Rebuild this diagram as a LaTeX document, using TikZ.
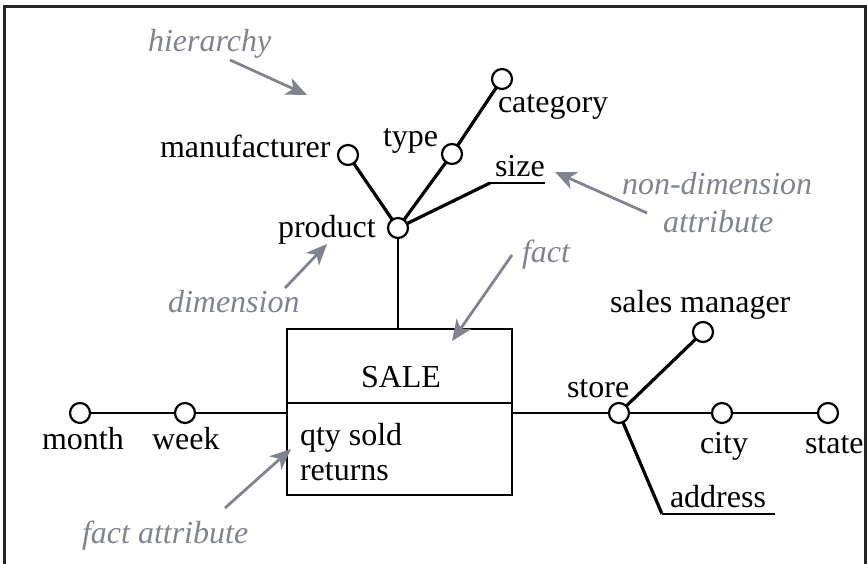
\documentclass[tikz,border=0pt]{standalone}
\usepackage{fontspec}
\setmainfont{Liberation Serif}
\usetikzlibrary{arrows.meta}
\definecolor{notegray}{RGB}{128,132,145}
\begin{document}
\begin{tikzpicture}[x=1pt,y=-1pt,
  every node/.style={inner sep=0pt, outer sep=0pt},
  lbl/.style={anchor=base west, font=\fontsize{32}{38}\selectfont},
  attr/.style={circle, draw, line width=2.2pt, minimum size=20pt, fill=white},
  thicklink/.style={line width=3.2pt},
  thinlink/.style={line width=2pt},
  boxpart/.style={draw, line width=2.2pt, minimum width=225pt, anchor=north west},
  note/.style={anchor=base west, font=\fontsize{32}{38}\selectfont\itshape, text=notegray},
  pointer/.style={draw=notegray, line width=2.8pt, -{Stealth[length=21pt,width=18pt,inset=6pt]}},
  frame/.style={line width=3pt, draw=black!85}]

\useasboundingbox (0,0) rectangle (867,564);

% open frame around the schema
\draw[frame] (4,564) -- (4,7) -- (865,7) -- (865,564);

% fact box
\node[boxpart, minimum height=74pt] (salehead) at (287,329) {};
\node[boxpart, minimum height=92pt] (salebody) at (287,403) {};
\node[lbl, anchor=base] (sale-t) at (401,387) {SALE};
\node[lbl] (qty-t) at (300,445) {qty sold};
\node[lbl] (ret-t) at (300,480) {returns};

% product dimension
\node[attr] (product) at (398,228) {};
\node[attr] (manuf) at (348,155) {};
\node[attr] (type) at (452,154) {};
\node[attr] (category) at (502,79) {};
\coordinate (sizeL) at (490,183);
\coordinate (sizeR) at (545,183);

\node[lbl] (manuf-t) at (160,158) {manufacturer};
\node[lbl] (type-t) at (383,147) {type};
\node[lbl] (category-t) at (498,113) {category};
\node[lbl] (size-t) at (495,177) {size};
\node[lbl] (product-t) at (278,237) {product};

% time dimension
\node[attr] (month) at (80,413) {};
\node[attr] (week) at (185,413) {};
\node[lbl] (month-t) at (42,449) {month};
\node[lbl] (week-t) at (152,449) {week};

% store dimension
\node[attr] (store) at (619,413) {};
\node[attr] (smanager) at (703,332) {};
\node[attr] (city) at (722,413) {};
\node[attr] (state) at (828,413) {};
\coordinate (addrL) at (662,514);
\coordinate (addrR) at (775,514);

\node[lbl] (smanager-t) at (610,312) {sales manager};
\node[lbl] (store-t) at (567,397) {store};
\node[lbl] (city-t) at (700,453) {city};
\node[lbl] (state-t) at (805,453) {state};
\node[lbl] (address-t) at (670,507) {address};

% connectors
\draw[thicklink] (manuf) -- (product);
\draw[thicklink] (type) -- (product);
\draw[thicklink] (category) -- (type);
\draw[thicklink] (product) -- (sizeL);
\draw[thinlink] (sizeL) -- (sizeR);
\draw[thinlink] (product) -- (product |- salehead.north);
\draw[thinlink] (month) -- (week) -- (week -| salebody.west);
\draw[thinlink] (store -| salebody.east) -- (store) -- (city) -- (state);
\draw[thicklink] (store) -- (smanager);
\draw[thicklink] (store) -- (addrL);
\draw[thinlink] (addrL) -- (addrR);

% annotations
\node[note] (hier-n) at (148,52) {hierarchy};
\coordinate (hier-a) at (230,60);
\coordinate (hier-b) at (307,95);
\draw[pointer] (hier-a) -- (hier-b);

\node[note] (nondim-n) at (622,195) {non-dimension};
\node[note] (attrib-n) at (663,233) {attribute};
\coordinate (nondim-a) at (647,213);
\coordinate (nondim-b) at (555,172);
\draw[pointer] (nondim-a) -- (nondim-b);

\node[note] (dim-n) at (168,312) {dimension};
\coordinate (dim-a) at (285,288);
\coordinate (dim-b) at (327,244);
\draw[pointer] (dim-a) -- (dim-b);

\node[note] (fact-n) at (522,262) {fact};
\coordinate (fact-a) at (512,255);
\coordinate (fact-b) at (452,341);
\draw[pointer] (fact-a) -- (fact-b);

\node[note] (fattr-n) at (82,543) {fact attribute};
\coordinate (fattr-a) at (225,508);
\coordinate (fattr-b) at (291,449);
\draw[pointer] (fattr-a) -- (fattr-b);
\end{tikzpicture}
\end{document}
